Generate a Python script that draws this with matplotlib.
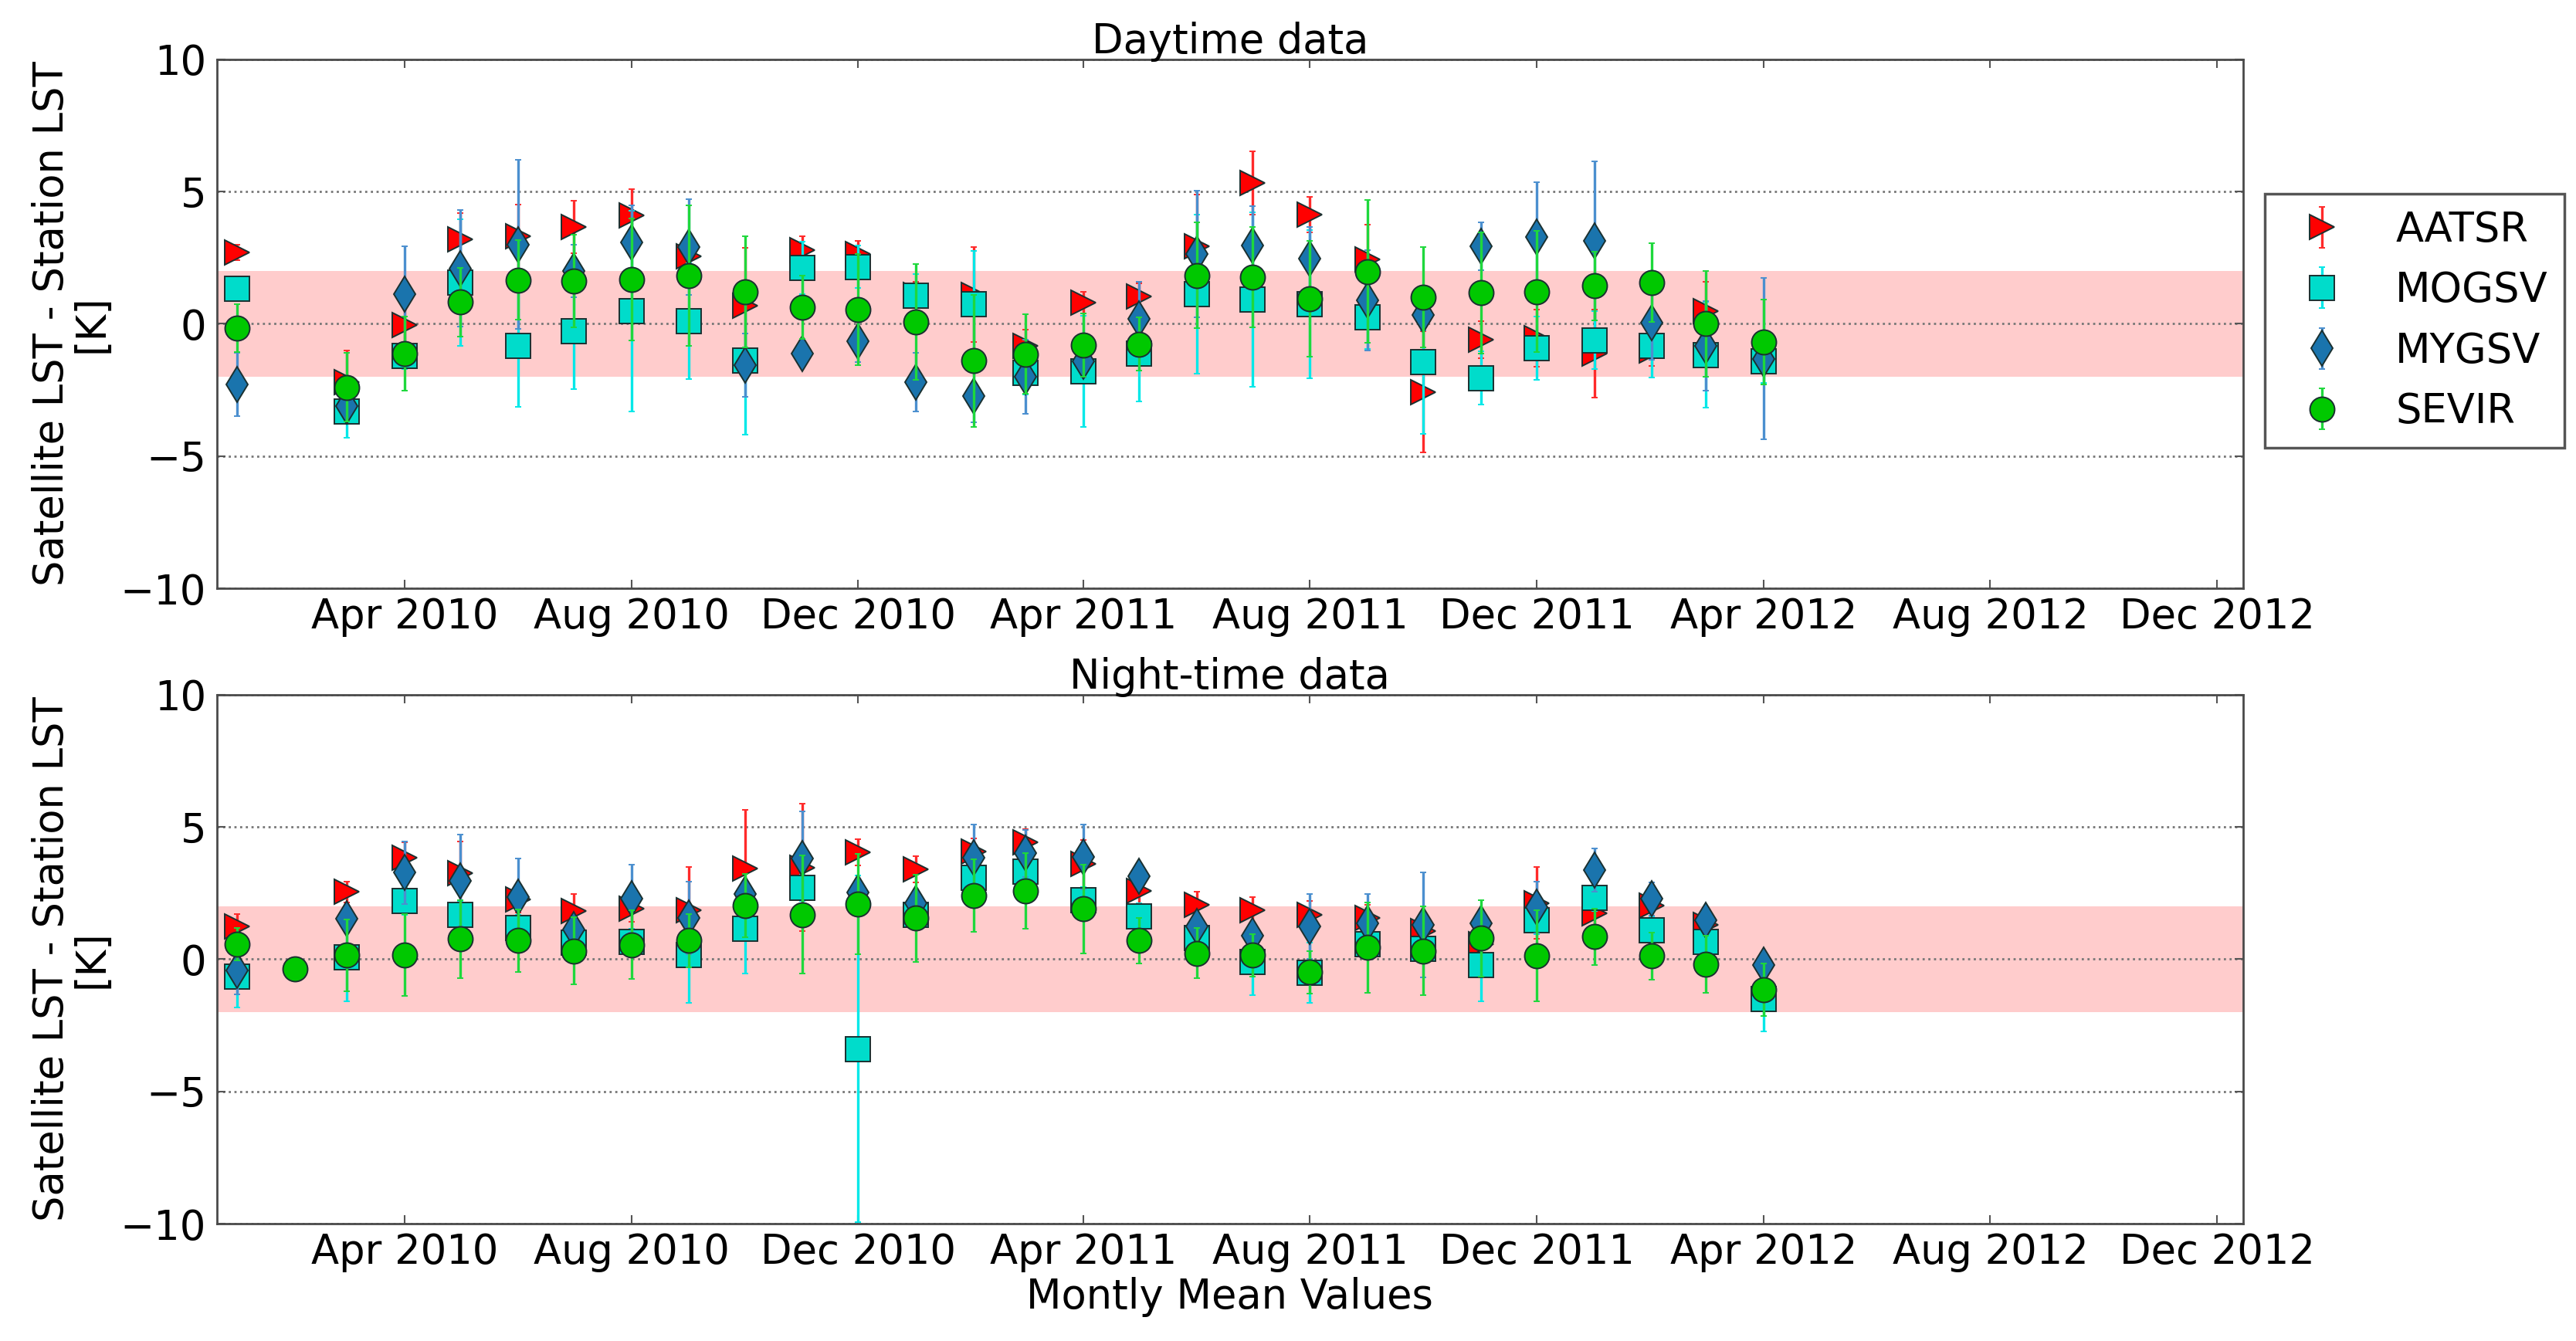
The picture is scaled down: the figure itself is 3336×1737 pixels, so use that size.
import numpy as np
import pandas as pd
import matplotlib
matplotlib.use("Agg")
import matplotlib.pyplot as plt
import matplotlib.dates as mdates
from datetime import datetime

nan = np.nan
months = pd.date_range("2010-01-01", periods=28, freq="MS")
sensors = ["AATSR", "MOGSV", "MYGSV", "SEVIR"]

# ---- Daytime ----
day_aatsr = [2.7, nan, -2.2, -0.05, 3.2, 3.3, 3.66, 4.1, 2.56, 0.68, 2.8, 2.64, 1.1, 1.1,
             -0.83, 0.8, 1.03, 2.93, 5.32, 4.13, 2.44, -2.57, -0.59, -0.54, -1.12, -1.0, 0.49, nan]
day_aatsr_err = [0.3, nan, 1.2, 0.8, 1.0, 1.2, 1.0, 1.0, 0.5, 2.2, 0.5, 0.5, 0.5, 1.8,
                 0.6, 0.4, 0.5, 1.95, 1.2, 0.66, 1.3, 2.3, 0.7, 1.07, 1.66, 0.6, 1.1, nan]
day_mogsv = [1.34, nan, -3.3, -1.2, 1.56, -0.83, -0.27, 0.49, 0.1, -1.4, 2.12, 2.15, 1.07, 0.75,
             -1.86, -1.8, -1.12, 1.12, 0.93, 0.75, 0.26, -1.46, -2.05, -0.93, -0.62, -0.83, -1.17, -1.42]
day_mogsv_err = [0.4, nan, 1.0, 0.5, 2.4, 2.3, 2.2, 3.8, 2.2, 2.8, 1.0, 0.8, 0.8, 2.0,
                 0.8, 2.1, 1.8, 3.0, 3.3, 2.8, 1.2, 2.7, 1.0, 1.2, 1.1, 1.2, 2.0, 0.8]
day_mygsv = [-2.3, nan, -3.1, 1.12, 2.1, 3.0, 2.0, 3.08, 2.9, -1.56, -1.12, -0.66, -2.2, -2.73,
             -2.0, -1.42, 0.18, 2.64, 2.96, 2.47, 0.9, 0.34, 2.93, 3.27, 3.14, 0.05, -0.83, -1.32]
day_mygsv_err = [1.2, nan, 0.6, 1.8, 2.2, 3.2, 1.0, 1.4, 1.8, 1.2, 0.5, 0.8, 1.1, 1.0,
                 1.4, 0.6, 1.4, 2.4, 1.5, 1.2, 1.9, 0.6, 0.9, 2.1, 3.0, 1.4, 1.7, 3.05]
day_sevir = [-0.17, nan, -2.4, -1.12, 0.83, 1.66, 1.63, 1.68, 1.83, 1.22, 0.63, 0.54, 0.07, -1.4,
             -1.14, -0.8, -0.76, 1.83, 1.76, 0.95, 1.98, 1.0, 1.17, 1.22, 1.44, 1.56, 0.0, -0.68]
day_sevir_err = [0.9, nan, 1.3, 1.4, 1.3, 1.5, 1.75, 2.3, 2.65, 2.1, 1.2, 2.1, 2.2, 2.5,
                 1.5, 1.2, 1.0, 2.0, 1.9, 2.2, 2.7, 1.9, 2.3, 2.3, 1.3, 1.5, 2.0, 1.6]

# ---- Night-time ----
night_aatsr = [1.24, nan, 2.54, 3.83, 3.25, 2.27, 1.82, 1.91, 1.85, 3.44, 3.47, 4.05, 3.41, 4.08,
               4.42, 3.6, 2.58, 2.05, 1.85, 1.69, 1.57, 1.07, 0.57, 2.13, 1.74, 2.02, 1.29, nan]
night_aatsr_err = [0.48, nan, 0.4, 0.6, 1.2, 0.5, 0.65, 0.5, 1.65, 2.2, 2.4, 0.5, 0.5, 0.5,
                   0.5, 0.9, 0.5, 0.5, 0.5, 0.5, 0.5, 0.5, 0.5, 1.37, 0.5, 0.5, 0.5, nan]
night_mogsv = [-0.66, nan, 0.07, 2.19, 1.69, 1.18, 0.63, 0.66, 0.15, 1.15, 2.69, -3.39, 1.69, 3.08,
               3.3, 2.24, 1.63, 0.79, -0.1, -0.52, 0.57, 0.4, -0.21, 1.46, 2.33, 1.1, 0.66, -1.5]
night_mogsv_err = [1.17, nan, 1.67, 0.5, 0.5, 0.5, 0.5, 0.5, 1.81, 1.7, 0.5, 6.56, 0.5, 0.5,
                   0.5, 0.5, 0.5, 0.5, 1.25, 1.14, 0.5, 0.5, 1.39, 0.5, 0.5, 0.5, 0.5, 1.22]
night_mygsv = [-0.43, nan, 1.52, 3.27, 2.97, 2.35, 1.13, 2.3, 1.57, 2.47, 3.8, 2.52, 2.13, 3.83,
               4.0, 3.86, 3.14, 1.24, 0.9, 1.24, 1.35, 1.29, 1.35, 1.96, 3.38, 2.28, 1.48, -0.23]
night_mygsv_err = [0.9, nan, 0.5, 1.17, 1.73, 1.45, 0.5, 1.28, 1.37, 0.5, 1.8, 0.5, 0.5, 1.26,
                   0.9, 1.23, 0.5, 0.5, 0.5, 1.23, 1.12, 1.98, 0.5, 0.98, 0.82, 0.63, 0.5, 0.5]
night_sevir = [0.57, -0.38, 0.15, 0.16, 0.76, 0.7, 0.32, 0.55, 0.7, 2.02, 1.69, 2.08, 1.55, 2.41,
               2.58, 1.91, 0.7, 0.23, 0.15, -0.49, 0.44, 0.32, 0.79, 0.12, 0.85, 0.12, -0.19, -1.16]
night_sevir_err = [0.6, 0.0, 1.35, 1.54, 1.47, 1.19, 1.26, 1.3, 1.0, 1.2, 2.24, 1.9, 1.65, 1.37,
                   1.43, 1.68, 0.86, 0.94, 0.8, 0.8, 1.71, 1.67, 1.45, 1.72, 1.06, 0.89, 1.08, 1.0]

titles = ["Daytime data", "Night-time data"]
ylabel = "Satellite LST - Station LST\n[K]"
xlabel = "Montly Mean Values"

styles = {
    "AATSR": dict(marker=">", mfc="#ff0000", ecolor="#ff2a2a"),
    "MOGSV": dict(marker="s", mfc="#00dccb", ecolor="#00e8e8"),
    "MYGSV": dict(marker="d", mfc="#1a74ad", ecolor="#4b8fcf"),
    "SEVIR": dict(marker="o", mfc="#00c800", ecolor="#1ed83c"),
}

panels = [
    (titles[0], [(day_aatsr, day_aatsr_err), (day_mogsv, day_mogsv_err),
                 (day_mygsv, day_mygsv_err), (day_sevir, day_sevir_err)]),
    (titles[1], [(night_aatsr, night_aatsr_err), (night_mogsv, night_mogsv_err),
                 (night_mygsv, night_mygsv_err), (night_sevir, night_sevir_err)]),
]

plt.rcParams["font.family"] = ["DejaVu Sans"]
plt.rcParams["font.size"] = 38

fig = plt.figure(figsize=(33.37, 17.37), dpi=100, facecolor="white")
rects = [[0.0842, 0.5613, 0.7863, 0.3944], [0.0842, 0.0875, 0.7863, 0.3944]]

axes = []
for rect, (title, series) in zip(rects, panels):
    ax = fig.add_axes(rect)
    axes.append(ax)
    ax.axhspan(-2, 2, color="#ffcccc", zorder=0.3, lw=0)
    for z, (name, (vals, errs)) in enumerate(zip(sensors, series)):
        st = styles[name]
        ax.errorbar(months, vals, yerr=errs, fmt=st["marker"], ms=23,
                    mfc=st["mfc"], mec="#1a3030", mew=1.4,
                    ecolor=st["ecolor"], elinewidth=2.4, capsize=3, capthick=2,
                    label=name, zorder=3 + z)
    ax.set_ylim(-10, 10)
    ax.set_yticks([-10, -5, 0, 5, 10])
    ax.set_xlim(datetime(2009, 12, 21), datetime(2012, 12, 15))
    ax.xaxis.set_major_locator(mdates.MonthLocator(bymonth=[4, 8, 12]))
    ax.xaxis.set_major_formatter(mdates.DateFormatter("%b %Y"))
    ax.set_axisbelow(True)
    ax.yaxis.grid(True, linestyle=":", color="#777777", lw=2)
    ax.tick_params(direction="in", top=True, right=True, length=8, width=1.5,
                   color="#555555", labelsize=38)
    ax.tick_params(axis="x", pad=8)
    ax.tick_params(axis="y", pad=10)
    for sp in ax.spines.values():
        sp.set_color("#4a4a4a")
        sp.set_linewidth(2)
    ax.set_title(title, fontsize=38, pad=6)
    ax.set_ylabel(ylabel, fontsize=38, linespacing=1.0)
    ax.yaxis.set_label_coords(-0.052, 0.5)

axes[1].set_xlabel(xlabel, fontsize=38, labelpad=4)

handles, labels = axes[0].get_legend_handles_labels()
leg = fig.legend(handles, labels, loc="upper left", bbox_to_anchor=(0.879, 0.8556),
                 bbox_transform=fig.transFigure, borderaxespad=0, numpoints=1,
                 handletextpad=0.8, labelspacing=0.5, borderpad=0.4, fancybox=False,
                 fontsize=38, framealpha=1)
leg.get_frame().set_edgecolor("#555555")
leg.get_frame().set_linewidth(2.5)

fig.savefig("out.png", dpi=100, facecolor="white")
